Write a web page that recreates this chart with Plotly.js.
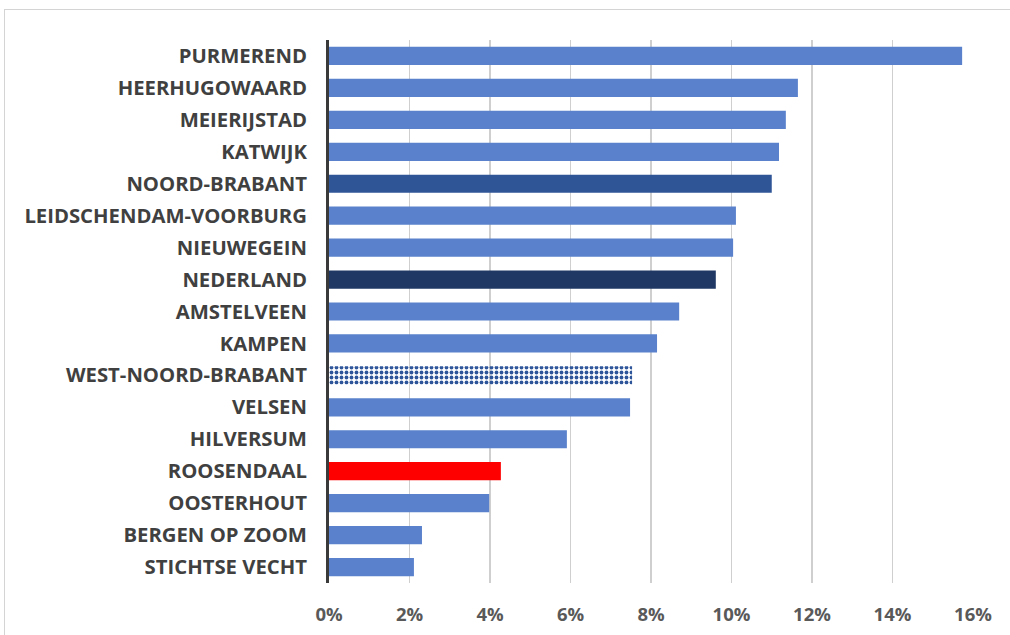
<!DOCTYPE html>
<html>
<head>
<meta charset="utf-8">
<script src="https://cdn.plot.ly/plotly-3.0.1.min.js"></script>
<style>
html,body{margin:0;padding:0;background:#fff;}
#wrap{position:relative;width:1010px;height:635px;overflow:hidden;}
#frame{position:absolute;left:4px;top:9px;width:1020px;height:640px;border:1.5px solid #d4d4d4;box-sizing:border-box;pointer-events:none;z-index:5;}
#chart{position:absolute;left:0;top:0;width:1010px;height:635px;}
</style>
</head>
<body>
<div id="wrap"><div id="chart"></div><div id="frame"></div></div>
<script>
const categories = ["PURMEREND","HEERHUGOWAARD","MEIERIJSTAD","KATWIJK","NOORD-BRABANT","LEIDSCHENDAM-VOORBURG","NIEUWEGEIN","NEDERLAND","AMSTELVEEN","KAMPEN","WEST-NOORD-BRABANT","VELSEN","HILVERSUM","ROOSENDAAL","OOSTERHOUT","BERGEN OP ZOOM","STICHTSE VECHT"];
const values = [0.1573,0.1165,0.1135,0.1118,0.110,0.1011,0.1004,0.0961,0.0870,0.0815,0.0753,0.0748,0.0591,0.0427,0.0398,0.0231,0.0211];
const tickValues = [0,0.02,0.04,0.06,0.08,0.10,0.12,0.14,0.16];
const tickLabels = ["0%","2%","4%","6%","8%","10%","12%","14%","16%"];

const base = "#5A82CC";
const colors = categories.map(c => c==="NOORD-BRABANT" ? "#2F5597" : c==="NEDERLAND" ? "#1F3864" : c==="ROOSENDAAL" ? "#FF0000" : c==="WEST-NOORD-BRABANT" ? "#2E5599" : base);
const shapes = categories.map(c => c==="WEST-NOORD-BRABANT" ? "." : "");

const trace = {
  type: "bar",
  orientation: "h",
  x: values,
  y: categories,
  marker: {
    color: colors,
    line: {width: 0},
    pattern: {shape: shapes, fgcolor: "#A9C0E8", bgcolor: "#2E5599", size: 5, solidity: 0.45, fillmode: "replace"}
  },
  hoverinfo: "x+y"
};

const layout = {
  width: 1010, height: 635,
  margin: {l: 329, r: 37, t: 40, b: 52},
  paper_bgcolor: "rgba(0,0,0,0)",
  plot_bgcolor: "#fff",
  bargap: 0.43,
  showlegend: false,
  xaxis: {
    range: [0, 0.16],
    tickvals: tickValues,
    ticktext: tickLabels,
    showgrid: true,
    gridcolor: "#cfcfcf",
    gridwidth: 1.5,
    zeroline: false,
    showline: false,
    ticks: "",
    ticklabelstandoff: 18,
    tickfont: {family: "Open Sans, sans-serif", size: 18.5, color: "#595959", weight: "bold"},
    fixedrange: true
  },
  yaxis: {
    type: "category",
    autorange: "reversed",
    showline: true,
    linecolor: "#3a3a3a",
    linewidth: 3,
    showgrid: false,
    ticks: "",
    ticklabelstandoff: 15,
    tickfont: {family: "Open Sans, sans-serif", size: 20.3, color: "#404040", weight: "bold"},
    fixedrange: true
  }
};

Plotly.newPlot("chart", [trace], layout, {displayModeBar: false, staticPlot: true});
</script>
</body>
</html>
